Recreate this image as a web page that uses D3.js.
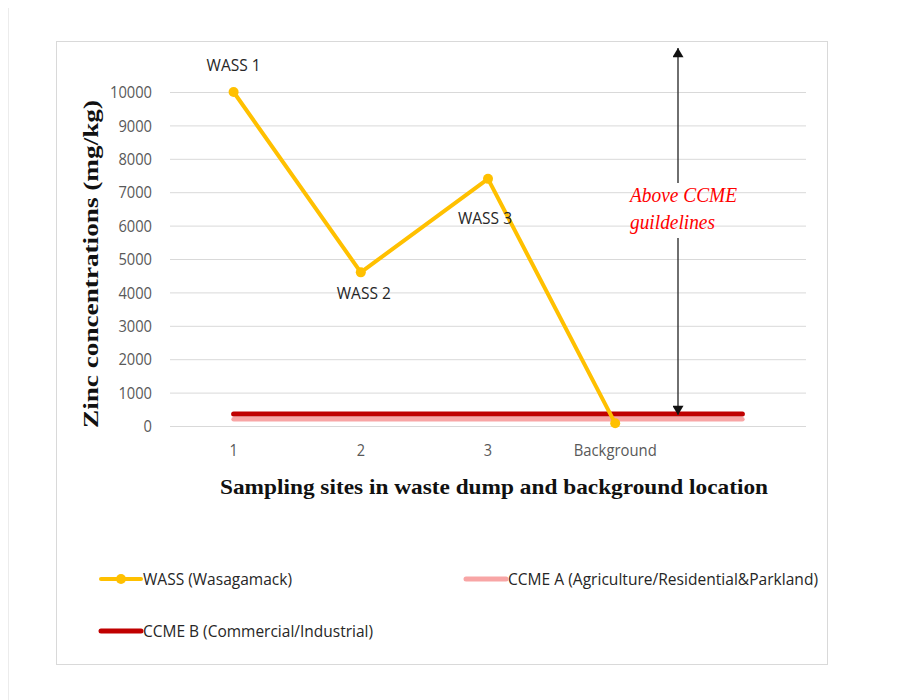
<!DOCTYPE html>
<html>
<head>
<meta charset="utf-8">
<script src="https://cdn.jsdelivr.net/npm/d3@7"></script>
<style>
    body { margin: 0; background: #fff; }
    svg { display: block; }
</style>
</head>
<body>
<svg id="zinc_chart_svg" width="900" height="700"></svg>
<script>
// data
const sites = ['1', '2', '3', 'Background', ''];
const wassValues = [10000, 4600, 7400, 80];
const wassLabels = ['WASS 1', 'WASS 2', 'WASS 3', ''];
const ccmeAValues = [200, 200, 200, 200, 200];
const ccmeBValues = [360, 360, 360, 360, 360];
const yTicks = [0, 1000, 2000, 3000, 4000, 5000, 6000, 7000, 8000, 9000, 10000];
const legendNames = ['WASS (Wasagamack)', 'CCME A (Agriculture/Residential&Parkland)', 'CCME B (Commercial/Industrial)'];

const colors = {
    wass: '#ffc000',
    ccmeA: '#f8a5a5',
    ccmeB: '#c00000',
    grid: '#d9d9d9',
    tick: '#595959',
    frame: '#d9d9d9'
}

// no Calibri here, so the text is squeezed to the widths seen in the picture
const labelFont = '"Open Sans", "DejaVu Sans", sans-serif';
const titleFont = '"Liberation Serif", "DejaVu Serif", serif';

const svg = d3.select('#zinc_chart_svg');

// page edge + chart frame
svg.append('line')
    .attr('x1', 8.5).attr('x2', 8.5)
    .attr('y1', 8).attr('y2', 700)
    .attr('stroke', '#ececec');

svg.append('rect')
    .attr('x', 56.5).attr('y', 41.5)
    .attr('width', 771).attr('height', 623)
    .attr('fill', 'white')
    .attr('stroke', colors.frame);

const plot = {left: 170, right: 806, top: 92, bottom: 426};

const xScale = d3.scaleBand()
    .domain(sites)
    .range([plot.left, plot.right]);

const xPos = d => xScale(d) + xScale.bandwidth() / 2;

const yScale = d3.scaleLinear()
    .domain([0, 10000])
    .range([plot.bottom, plot.top]);

// gridlines + y tick labels
const yAxis = d3.axisLeft(yScale)
    .tickValues(yTicks)
    .tickSize(-(plot.right - plot.left))
    .tickPadding(18)
    .tickFormat(d3.format('d'));

const yG = svg.append('g')
    .attr('transform', `translate(${plot.left}, 0)`)
    .call(yAxis);
yG.select('.domain').remove();
yG.selectAll('.tick line').attr('stroke', colors.grid);
yG.selectAll('.tick text')
    .attr('fill', colors.tick)
    .attr('dy', '0.36em')
    .style('font-family', labelFont)
    .style('font-size', '16px')
    .attr('textLength', d => String(d).length * 8.4)
    .attr('lengthAdjust', 'spacingAndGlyphs');

// x tick labels
const xAxis = d3.axisBottom(xScale).tickSize(0).tickPadding(19);
const xG = svg.append('g')
    .attr('transform', `translate(0, ${plot.bottom})`)
    .call(xAxis);
xG.select('.domain').remove();
xG.selectAll('.tick text')
    .attr('fill', colors.tick)
    .style('font-family', labelFont)
    .style('font-size', '16px')
    .attr('textLength', d => d.length * 8.3)
    .attr('lengthAdjust', 'spacingAndGlyphs');
xG.selectAll('.tick text').filter(d => d === '').remove();

// series
const line = d3.line()
    .x((d, i) => xPos(sites[i]))
    .y(d => yScale(d));

svg.append('path')
    .datum(ccmeAValues)
    .attr('d', line)
    .attr('fill', 'none')
    .attr('stroke', colors.ccmeA)
    .attr('stroke-width', 4.5)
    .attr('stroke-linecap', 'round');

svg.append('path')
    .datum(ccmeBValues)
    .attr('d', line)
    .attr('fill', 'none')
    .attr('stroke', colors.ccmeB)
    .attr('stroke-width', 5)
    .attr('stroke-linecap', 'round');

svg.append('path')
    .datum(wassValues)
    .attr('d', line)
    .attr('fill', 'none')
    .attr('stroke', colors.wass)
    .attr('stroke-width', 4)
    .attr('stroke-linejoin', 'round');

svg.selectAll('.wass_dot')
    .data(wassValues)
    .enter()
    .append('circle')
    .attr('class', 'wass_dot')
    .attr('cx', (d, i) => xPos(sites[i]))
    .attr('cy', d => yScale(d))
    .attr('r', 5)
    .attr('fill', colors.wass);

// data labels (Excel style placement)
const labelOffsets = [[0, -21], [3, 27], [-3, 45], [0, 0]];
svg.selectAll('.wass_label')
    .data(wassValues)
    .enter()
    .append('text')
    .attr('class', 'wass_label')
    .attr('x', (d, i) => xPos(sites[i]) + labelOffsets[i][0])
    .attr('y', (d, i) => yScale(d) + labelOffsets[i][1])
    .attr('text-anchor', 'middle')
    .style('font-family', labelFont)
    .style('font-size', '17px')
    .attr('fill', '#262626')
    .attr('textLength', (d, i) => wassLabels[i] ? 54 : null)
    .attr('lengthAdjust', 'spacingAndGlyphs')
    .text((d, i) => wassLabels[i]);

// annotation arrow
const arrowX = 678;
const defs = svg.append('defs');
defs.append('marker')
    .attr('id', 'arrow_head')
    .attr('viewBox', '0 0 10 12')
    .attr('refX', 10).attr('refY', 6)
    .attr('markerUnits', 'userSpaceOnUse')
    .attr('markerWidth', 13).attr('markerHeight', 11)
    .attr('orient', 'auto')
    .append('path')
    .attr('d', 'M0,0 L10,6 L0,12 z')
    .attr('fill', '#111');

svg.append('line')
    .attr('x1', arrowX).attr('x2', arrowX)
    .attr('y1', 183).attr('y2', 48)
    .attr('stroke', '#333').attr('stroke-width', 1.4)
    .attr('marker-end', 'url(#arrow_head)');

svg.append('line')
    .attr('x1', arrowX).attr('x2', arrowX)
    .attr('y1', 238).attr('y2', yScale(ccmeBValues[4]) + 1)
    .attr('stroke', '#333').attr('stroke-width', 1.4)
    .attr('marker-end', 'url(#arrow_head)');

const note = svg.append('text')
    .style('font-family', titleFont)
    .style('font-style', 'italic')
    .style('font-size', '20px')
    .attr('fill', '#ff0000')
    .attr('lengthAdjust', 'spacingAndGlyphs');
note.append('tspan').attr('x', 630).attr('y', 202)
    .attr('textLength', 107).attr('lengthAdjust', 'spacingAndGlyphs')
    .text('Above CCME');
note.append('tspan').attr('x', 630).attr('y', 229)
    .attr('textLength', 85).attr('lengthAdjust', 'spacingAndGlyphs')
    .text('guildelines');

// axis titles
svg.append('text')
    .attr('transform', `translate(98, 264) rotate(-90)`)
    .attr('text-anchor', 'middle')
    .style('font-family', titleFont)
    .style('font-weight', 'bold')
    .style('font-size', '22px')
    .attr('fill', '#111')
    .attr('textLength', 328)
    .attr('lengthAdjust', 'spacingAndGlyphs')
    .text('Zinc concentrations (mg/kg)');

svg.append('text')
    .attr('x', 494).attr('y', 494)
    .attr('text-anchor', 'middle')
    .style('font-family', titleFont)
    .style('font-weight', 'bold')
    .style('font-size', '22px')
    .attr('fill', '#111')
    .attr('textLength', 548)
    .attr('lengthAdjust', 'spacingAndGlyphs')
    .text('Sampling sites in waste dump and background location');

// legend
const legendItems = [
    {x: 101, y: 579, color: colors.wass, width: 4, dot: true, textWidth: 149},
    {x: 466, y: 579, color: colors.ccmeA, width: 5, dot: false, textWidth: 310},
    {x: 101, y: 631, color: colors.ccmeB, width: 5, dot: false, textWidth: 230}
];

legendItems.forEach(function (item, i) {
    svg.append('line')
        .attr('x1', item.x).attr('x2', item.x + 40)
        .attr('y1', item.y).attr('y2', item.y)
        .attr('stroke', item.color)
        .attr('stroke-width', item.width)
        .attr('stroke-linecap', 'round');
    if (item.dot) {
        svg.append('circle')
            .attr('cx', item.x + 20).attr('cy', item.y)
            .attr('r', 5)
            .attr('fill', item.color);
    }
    svg.append('text')
        .attr('x', item.x + 42).attr('y', item.y + 6)
        .style('font-family', labelFont)
        .style('font-size', '16.5px')
        .attr('fill', '#262626')
        .attr('textLength', item.textWidth)
        .attr('lengthAdjust', 'spacingAndGlyphs')
        .text(legendNames[i]);
});
</script>
</body>
</html>
